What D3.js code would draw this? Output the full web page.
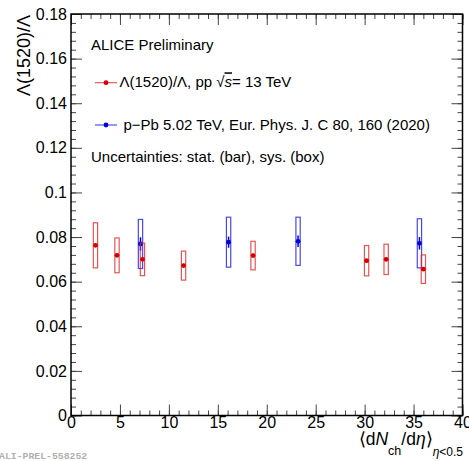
<!DOCTYPE html>
<html>
<head>
<meta charset="utf-8">
<script src="https://cdn.jsdelivr.net/npm/d3@7"></script>
<style>
  html, body { margin: 0; padding: 0; background: #fff; }
  svg { display: block; font-family: "Liberation Sans", Arial, sans-serif; }
</style>
</head>
<body>
<div id="chart"></div>
<script>
// pp 13 TeV, Lambda(1520)/Lambda
const ppX    = [2.5, 4.7, 7.3, 11.5, 18.6, 30.2, 32.2, 36.0];
const ppY    = [0.0763, 0.0718, 0.0700, 0.0672, 0.0717, 0.0694, 0.0700, 0.0656];
const ppStat = [0.0008, 0.0008, 0.0008, 0.0008, 0.0008, 0.0008, 0.0008, 0.0008];
const ppSys  = [0.0101, 0.0078, 0.0073, 0.0065, 0.0064, 0.0068, 0.0068, 0.0064];

// p-Pb 5.02 TeV
const pPbX    = [7.1, 16.1, 23.2, 35.6];
const pPbY    = [0.0769, 0.0777, 0.0781, 0.0772];
const pPbStat = [0.0030, 0.0025, 0.0026, 0.0028];
const pPbSys  = [0.0110, 0.0112, 0.0108, 0.0110];

const xTicks = [0, 5, 10, 15, 20, 25, 30, 35, 40];
const xTickLabels = ["0", "5", "10", "15", "20", "25", "30", "35", "40"];
const yTicks = [0, 0.02, 0.04, 0.06, 0.08, 0.1, 0.12, 0.14, 0.16, 0.18];
const yTickLabels = ["0", "0.02", "0.04", "0.06", "0.08", "0.1", "0.12", "0.14", "0.16", "0.18"];

const width = 469, height = 461;
const padL = 71, padR = 462.5, padT = 14, padB = 415.5;
const sysHalf = 0.22; // half width of the sys boxes, x units

const svg = d3.select("#chart").append("svg")
  .attr("width", width)
  .attr("height", height);

const x = d3.scaleLinear().domain([0, 40]).range([padL, padR]);
const y = d3.scaleLinear().domain([0, 0.18]).range([padB, padT]);

const xMinor = d3.range(0, 40.01, 1);
const yMinor = d3.range(0, 0.1801, 0.004);

// ticks, all pointing inside, mirrored on top and right
function tickAxis(axis, g, minor, major) {
  g.append("g").call(axis.tickValues(minor).tickSize(-5).tickFormat(""));
  g.append("g").call(axis.tickValues(major).tickSize(-11).tickFormat(""));
  g.selectAll(".domain").remove();
  g.selectAll(".tick line").attr("stroke", "#444");
}

tickAxis(d3.axisBottom(x), svg.append("g").attr("transform", `translate(0,${padB})`), xMinor, xTicks);
tickAxis(d3.axisTop(x), svg.append("g").attr("transform", `translate(0,${padT})`), xMinor, xTicks);
tickAxis(d3.axisLeft(y), svg.append("g").attr("transform", `translate(${padL},0)`), yMinor, yTicks);
tickAxis(d3.axisRight(y), svg.append("g").attr("transform", `translate(${padR},0)`), yMinor, yTicks);

// tick labels
const xLab = svg.append("g")
  .attr("transform", `translate(0,${padB})`)
  .call(d3.axisBottom(x).tickValues(xTicks).tickSize(0).tickPadding(1)
    .tickFormat((d, i) => xTickLabels[i]));
xLab.select(".domain").remove();
xLab.selectAll("text").attr("font-size", 16).attr("fill", "#000")
  .attr("font-family", "Liberation Sans, Arial, sans-serif");

const yLab = svg.append("g")
  .attr("transform", `translate(${padL},0)`)
  .call(d3.axisLeft(y).tickValues(yTicks).tickSize(0).tickPadding(4)
    .tickFormat((d, i) => yTickLabels[i]));
yLab.select(".domain").remove();
yLab.selectAll("text").attr("font-size", 16).attr("fill", "#000")
  .attr("font-family", "Liberation Sans, Arial, sans-serif");

// frame
svg.append("rect")
  .attr("x", padL).attr("y", padT)
  .attr("width", padR - padL).attr("height", padB - padT)
  .attr("fill", "none").attr("stroke", "#000").attr("stroke-width", 1.5);

// data
function drawSeries(xs, ys, stat, sys, boxColor, color) {
  const g = svg.append("g");
  const idx = d3.range(xs.length);
  g.selectAll("rect.sys").data(idx).enter().append("rect")
    .attr("class", "sys")
    .attr("x", i => x(xs[i] - sysHalf))
    .attr("y", i => y(ys[i] + sys[i]))
    .attr("width", i => x(xs[i] + sysHalf) - x(xs[i] - sysHalf))
    .attr("height", i => y(ys[i] - sys[i]) - y(ys[i] + sys[i]))
    .attr("fill", "none")
    .attr("stroke", boxColor)
    .attr("stroke-width", 1.2);
  g.selectAll("line.stat").data(idx).enter().append("line")
    .attr("class", "stat")
    .attr("x1", i => x(xs[i])).attr("x2", i => x(xs[i]))
    .attr("y1", i => y(ys[i] + stat[i]))
    .attr("y2", i => y(ys[i] - stat[i]))
    .attr("stroke", color).attr("stroke-width", 1.5);
  g.selectAll("circle").data(idx).enter().append("circle")
    .attr("cx", i => x(xs[i]))
    .attr("cy", i => y(ys[i]))
    .attr("r", 2.4)
    .attr("fill", color);
}

drawSeries(pPbX, pPbY, pPbStat, pPbSys, "rgba(40,40,235,0.85)", "#0000d8");
drawSeries(ppX, ppY, ppStat, ppSys, "rgba(225,40,40,0.8)", "#d40000");

// legend text
svg.append("text").attr("x", 91).attr("y", 50)
  .attr("font-size", 15).text("ALICE Preliminary");

const leg = [
  { yy: 82.7, line: "rgba(225,60,60,0.85)", color: "#d40000" },
  { yy: 125, line: "rgba(50,50,235,0.85)", color: "#0000d8" }
];
leg.forEach(l => {
  svg.append("line").attr("x1", 95).attr("x2", 117)
    .attr("y1", l.yy).attr("y2", l.yy)
    .attr("stroke", l.line).attr("stroke-width", 1.2);
  svg.append("circle").attr("cx", 106).attr("cy", l.yy).attr("r", 2.4).attr("fill", l.color);
});

const t1 = svg.append("text").attr("x", 119.5).attr("y", 87.3).attr("font-size", 15);
t1.append("tspan").text("Λ(1520)/Λ, pp ");
t1.append("tspan").text("√");
t1.append("tspan").attr("font-style", "italic").style("text-decoration", "overline").text("s");
t1.append("tspan").text("= 13 TeV");

svg.append("text").attr("x", 123.5).attr("y", 129.5).attr("font-size", 15)
  .text("p−Pb 5.02 TeV, Eur. Phys. J. C 80, 160 (2020)");

svg.append("text").attr("x", 91).attr("y", 161.7).attr("font-size", 15)
  .text("Uncertainties: stat. (bar), sys. (box)");

// axis titles
svg.append("text")
  .attr("transform", "translate(29.5,15) rotate(-90)")
  .attr("text-anchor", "end")
  .attr("font-size", 18)
  .text("Λ(1520)/Λ");

const xt = svg.append("text")
  .attr("x", 463).attr("y", 445)
  .attr("text-anchor", "end")
  .attr("font-size", 17.5);
xt.append("tspan").text("⟨d");
xt.append("tspan").attr("font-style", "italic").text("N");
xt.append("tspan").attr("font-size", 12.5).attr("dy", 10).text("ch");
xt.append("tspan").attr("dy", -10).text("/d");
xt.append("tspan").attr("font-style", "italic").text("η");
xt.append("tspan").text("⟩");
xt.append("tspan").attr("font-size", 12).attr("dy", 11).attr("font-style", "italic").text("η");
xt.append("tspan").attr("font-size", 12).text("<0.5");

// watermark
svg.append("text")
  .attr("x", -1).attr("y", 458.5)
  .attr("font-family", "Liberation Mono, Courier New, monospace")
  .attr("font-size", 9.8)
  .attr("font-weight", "bold")
  .attr("fill", "#b0b0b0")
  .text("ALI-PREL-558252");
</script>
</body>
</html>
